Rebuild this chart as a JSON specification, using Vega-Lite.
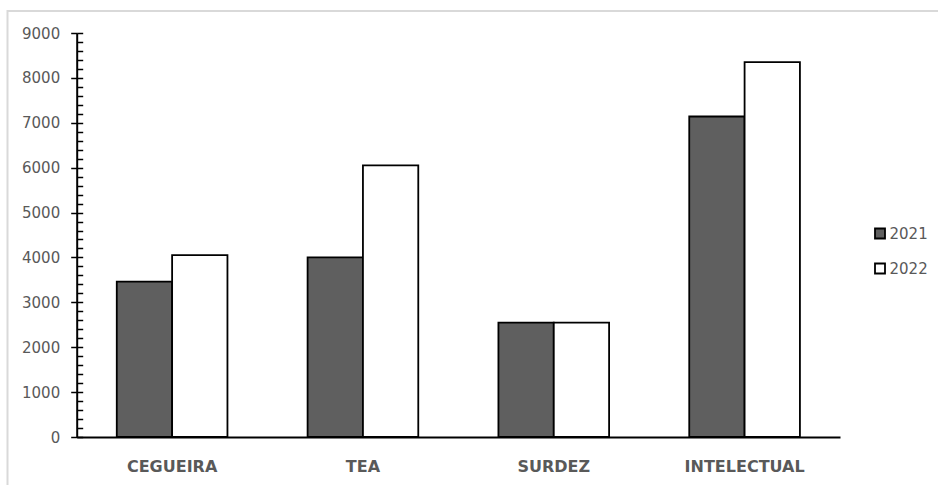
{
  "$schema": "https://vega.github.io/schema/vega-lite/v6.json",
  "autosize": {"type": "none"},
  "padding": {"left": 7.5, "top": 11, "right": 0, "bottom": 0},
  "width": 930.5,
  "height": 474,
  "config": {
    "view": {"stroke": "#d9d9d9", "strokeWidth": 2, "strokeDash": [930.5, 1404.5, 474]},
    "font": "DejaVu Sans"
  },
  "data": {
    "values": [
      {"category": "CEGUEIRA", "year": "2021", "count": 3460},
      {"category": "CEGUEIRA", "year": "2022", "count": 4050},
      {"category": "TEA", "year": "2021", "count": 4000},
      {"category": "TEA", "year": "2022", "count": 6050},
      {"category": "SURDEZ", "year": "2021", "count": 2550},
      {"category": "SURDEZ", "year": "2022", "count": 2550},
      {"category": "INTELECTUAL", "year": "2021", "count": 7140},
      {"category": "INTELECTUAL", "year": "2022", "count": 8350}
    ]
  },
  "encoding": {
    "x": {
      "field": "category",
      "type": "nominal",
      "sort": null,
      "scale": {"range": [69.2, 832.5], "paddingInner": 0.42, "paddingOuter": 0.21},
      "axis": {
        "orient": "bottom",
        "offset": -48,
        "ticks": false,
        "domainColor": "black",
        "domainWidth": 2,
        "labelFont": "DejaVu Sans",
        "labelFontWeight": "bold",
        "labelFontSize": 16,
        "labelColor": "#595959",
        "labelPadding": 21,
        "labelAngle": 0,
        "title": null,
        "grid": false
      }
    },
    "xOffset": {"field": "year", "type": "nominal"}
  },
  "layer": [
    {
      "mark": {"type": "bar", "stroke": "black", "strokeWidth": 1.8},
      "encoding": {
        "y": {
          "field": "count",
          "type": "quantitative",
          "scale": {"domain": [0, 9000], "range": [426, 22], "nice": false},
          "axis": {
            "orient": "left",
            "offset": -69.2,
            "values": [0, 1000, 2000, 3000, 4000, 5000, 6000, 7000, 8000, 9000],
            "format": "d",
            "tickSize": 6,
            "tickColor": "black",
            "tickWidth": 1.5,
            "domainColor": "black",
            "domainWidth": 2,
            "labelFont": "DejaVu Sans",
            "labelFontSize": 15,
            "labelColor": "#595959",
            "labelPadding": 11,
            "title": null,
            "grid": false
          }
        },
        "fill": {
          "field": "year",
          "type": "nominal",
          "scale": {"domain": ["2021", "2022"], "range": ["#5f5f5f", "#ffffff"]},
          "legend": {
            "orient": "none",
            "legendX": 865,
            "legendY": 215,
            "title": null,
            "padding": 0,
            "symbolType": "square",
            "symbolSize": 100,
            "symbolStrokeColor": "black",
            "symbolStrokeWidth": 1.8,
            "labelFont": "DejaVu Sans",
            "labelFontSize": 15,
            "labelColor": "#595959",
            "labelOffset": 2,
            "rowPadding": 16
          }
        }
      }
    },
    {
      "mark": {"type": "bar", "opacity": 0},
      "encoding": {
        "y": {
          "field": "count",
          "type": "quantitative",
          "axis": {
            "orient": "left",
            "offset": -69.2,
            "values": [0, 200, 400, 600, 800, 1000, 1200, 1400, 1600, 1800, 2000, 2200, 2400, 2600, 2800, 3000, 3200, 3400, 3600, 3800, 4000, 4200, 4400, 4600, 4800, 5000, 5200, 5400, 5600, 5800, 6000, 6200, 6400, 6600, 6800, 7000, 7200, 7400, 7600, 7800, 8000, 8200, 8400, 8600, 8800, 9000],
            "tickSize": -6,
            "tickColor": "black",
            "tickWidth": 1.5,
            "domain": false,
            "labels": false,
            "title": null,
            "grid": false
          }
        }
      }
    }
  ],
  "resolve": {"axis": {"y": "independent"}}
}
